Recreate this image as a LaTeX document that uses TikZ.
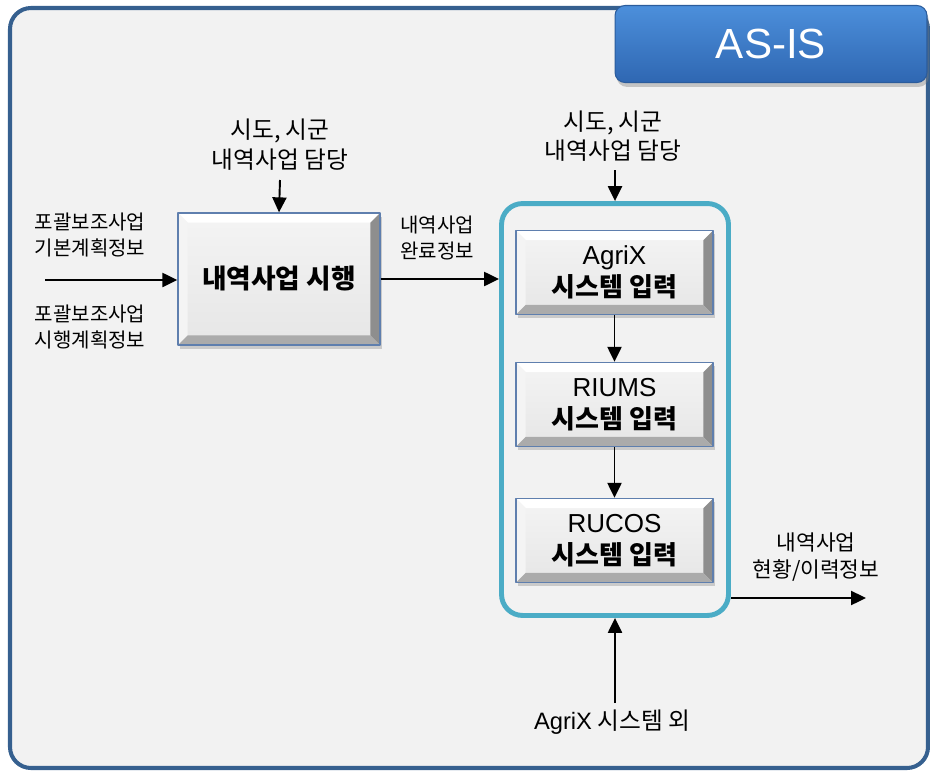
\documentclass[tikz,border=0pt]{standalone}
\usepackage{fontspec}
\setmainfont{Noto Sans CJK KR}
\newfontfamily\latinfont{Liberation Sans}
\usetikzlibrary{arrows.meta,shadows}

\definecolor{framecol}{HTML}{36608F}
\definecolor{bgcol}{HTML}{F2F2F2}
\definecolor{groupcol}{HTML}{4BACC6}
\definecolor{bevelblue}{HTML}{5F7FAE}
\definecolor{facecol}{HTML}{E6E6E6}
\definecolor{bevelleft}{HTML}{F4F4F4}
\definecolor{bevelright}{HTML}{8E8E8E}
\definecolor{bevelbottom}{HTML}{ABABAB}
\definecolor{tabtop}{HTML}{4C8FDB}
\definecolor{tabbot}{HTML}{2F67B2}
\definecolor{tabline}{HTML}{2B5C9C}

\def\bw{5.5pt}

\tikzset{
  bevelbox/.style={draw=bevelblue, line width=0.8pt,
    top color=bevelleft, bottom color=facecol,
    drop shadow={opacity=0.35, shadow xshift=1.2pt, shadow yshift=-2pt},
    align=center, inner sep=0pt,
    path picture={
      \coordinate (nw) at (path picture bounding box.north west);
      \coordinate (ne) at (path picture bounding box.north east);
      \coordinate (sw) at (path picture bounding box.south west);
      \coordinate (se) at (path picture bounding box.south east);
      \fill[white] (nw) -- (ne) -- ([shift={(-\bw,-\bw)}]ne) -- ([shift={(\bw,-\bw)}]nw) -- cycle;
      \fill[bevelleft] (nw) -- ([shift={(\bw,-\bw)}]nw) -- ([shift={(\bw,\bw)}]sw) -- (sw) -- cycle;
      \fill[bevelright] (ne) -- (se) -- ([shift={(-\bw,\bw)}]se) -- ([shift={(-\bw,-\bw)}]ne) -- cycle;
      \fill[bevelbottom] (sw) -- ([shift={(\bw,\bw)}]sw) -- ([shift={(-\bw,\bw)}]se) -- (se) -- cycle;
    }},
  execbox/.style={bevelbox, minimum width=4.04cm, minimum height=2.64cm,
    font=\bfseries\fontsize{15.2}{18}\selectfont},
  sysbox/.style={bevelbox, minimum width=3.94cm, minimum height=1.68cm,
    font=\fontsize{14.8}{18.5}\selectfont},
  lbl/.style={align=center, inner sep=0pt, font=\fontsize{11.4}{15}\selectfont},
  biglbl/.style={align=center, inner sep=0pt, font=\fontsize{13.5}{16.5}\selectfont},
  flow/.style={line width=1.1pt, -{Triangle[length=8.5pt,width=8pt]}},
}

\begin{document}
\begin{tikzpicture}[x=0.02cm,y=-0.02cm,line join=round]
\useasboundingbox (0,0) rectangle (930,771);

% --- outer frame ---
\draw[framecol, line width=2.3pt, fill=bgcol, rounded corners=0.42cm] (10,8) rectangle (928,768);

% --- title tab ---
\node[draw=tabline, line width=0.6pt, top color=tabtop, bottom color=tabbot,
      rounded corners=0.2cm, minimum width=6.24cm, minimum height=1.54cm,
      drop shadow={opacity=0.4, shadow xshift=1pt, shadow yshift=-2.5pt},
      text=white, font=\latinfont\fontsize{24}{28}\selectfont] (asis) at (771,44) {AS-IS};

% --- left process ---
\node[execbox] (exec) at (279,279) {내역사업 시행};

\node[biglbl, font=\fontsize{13.5}{17}\selectfont] (execby) at (280,145) {시도, 시군\\내역사업 담당};
\node[lbl] (basicinfo) at (90,235) {포괄보조사업\\기본계획정보};
\node[lbl] (planinfo) at (90,327) {포괄보조사업\\시행계획정보};
\node[lbl] (doneinfo) at (437,238) {내역사업\\완료정보};

\coordinate (inL) at (45,280);
\coordinate (inT1) at (280,180);
\draw[flow] (inL) -- (exec.west |- inL);
\draw[flow] (inT1) -- (exec.north);

% --- system input group ---
\node[draw=groupcol, line width=2.8pt, rounded corners=0.42cm,
      minimum width=4.54cm, minimum height=8.24cm] (sysgroup) at (615,409.5) {};

\node[sysbox] (agrix) at (614.5,272.5) {{\latinfont AgriX}\\\textbf{시스템 입력}};
\node[sysbox] (riums) at (614.5,404.5) {{\latinfont RIUMS}\\\textbf{시스템 입력}};
\node[sysbox] (rucos) at (614.5,540.5) {{\latinfont RUCOS}\\\textbf{시스템 입력}};

\draw[flow] (agrix) -- (riums);
\draw[flow] (riums) -- (rucos);

\node[biglbl] (inputby) at (613,136) {시도, 시군\\내역사업 담당};
\coordinate (inT2) at (615,170);
\draw[flow] (inT2) -- (sysgroup.north);

\draw[flow] (exec.east) -- (exec.east -| sysgroup.west);

% --- outputs and other inputs ---
\node[lbl, font=\fontsize{12.2}{15}\selectfont] (statinfo) at (816,557) {내역사업\\현황/이력정보};
\coordinate (outR) at (866,598);
\draw[flow] (outR -| sysgroup.east) -- (outR);

\node[biglbl] (others) at (612,722) {{\latinfont AgriX} 시스템 외};
\coordinate (inB) at (615,703);
\draw[flow] (inB) -- (sysgroup.south);
\end{tikzpicture}
\end{document}
